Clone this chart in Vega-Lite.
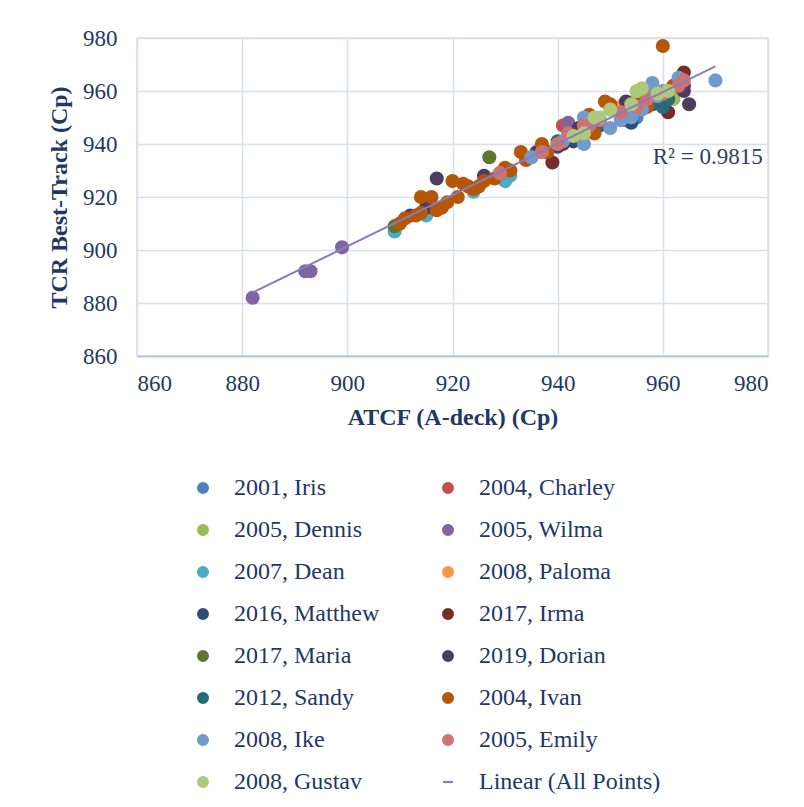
{
  "$schema": "https://vega.github.io/schema/vega-lite/v6.json",
  "width": 631,
  "height": 318,
  "autosize": "none",
  "padding": {"left": 137, "top": 38, "right": 36, "bottom": 451},
  "background": "white",
  "config": {
    "font": "Times New Roman",
    "view": {"stroke": "#D6E0F0", "strokeWidth": 1.5},
    "axis": {
      "gridColor": "#D6E0F0",
      "gridWidth": 1.5,
      "tickSize": 0,
      "labelFontSize": 23,
      "labelColor": "#1F3864",
      "titleFontSize": 24,
      "titleColor": "#1F3864",
      "titleFontWeight": "bold",
      "labelFont": "Times New Roman",
      "titleFont": "Times New Roman"
    },
    "legend": {
      "labelFont": "Times New Roman",
      "symbolStrokeWidth": 2,
      "title": null,
      "orient": "none",
      "direction": "horizontal",
      "legendX": 54,
      "legendY": 438,
      "columns": 2,
      "columnPadding": 56,
      "rowPadding": 18,
      "padding": 0,
      "labelFontSize": 24,
      "labelColor": "#1F3864",
      "labelOffset": 19,
      "labelLimit": 400
    }
  },
  "data": {
    "values": [
      {"series": "2001, Iris", "x": 944, "y": 945},
      {"series": "2001, Iris", "x": 948, "y": 948},
      {"series": "2001, Iris", "x": 953, "y": 949},
      {"series": "2001, Iris", "x": 955, "y": 950},
      {"series": "2001, Iris", "x": 957, "y": 956},
      {"series": "2004, Charley", "x": 941, "y": 947},
      {"series": "2004, Charley", "x": 946, "y": 946},
      {"series": "2004, Charley", "x": 952, "y": 951},
      {"series": "2004, Charley", "x": 956, "y": 955},
      {"series": "2004, Charley", "x": 962, "y": 960},
      {"series": "2005, Dennis", "x": 943, "y": 943},
      {"series": "2005, Dennis", "x": 950, "y": 953},
      {"series": "2005, Dennis", "x": 955, "y": 957},
      {"series": "2005, Dennis", "x": 958, "y": 960},
      {"series": "2005, Dennis", "x": 962, "y": 957},
      {"series": "2005, Wilma", "x": 882, "y": 882},
      {"series": "2005, Wilma", "x": 892, "y": 892},
      {"series": "2005, Wilma", "x": 893, "y": 892},
      {"series": "2005, Wilma", "x": 899, "y": 901},
      {"series": "2005, Wilma", "x": 942, "y": 948},
      {"series": "2007, Dean", "x": 909, "y": 907},
      {"series": "2007, Dean", "x": 915, "y": 913},
      {"series": "2007, Dean", "x": 924, "y": 922},
      {"series": "2007, Dean", "x": 930, "y": 926},
      {"series": "2007, Dean", "x": 931, "y": 928},
      {"series": "2008, Paloma", "x": 944, "y": 945},
      {"series": "2008, Paloma", "x": 947, "y": 950},
      {"series": "2008, Paloma", "x": 952, "y": 954},
      {"series": "2016, Matthew", "x": 938, "y": 937},
      {"series": "2016, Matthew", "x": 940, "y": 939},
      {"series": "2016, Matthew", "x": 943, "y": 941},
      {"series": "2016, Matthew", "x": 947, "y": 946},
      {"series": "2016, Matthew", "x": 954, "y": 948},
      {"series": "2016, Matthew", "x": 958, "y": 955},
      {"series": "2017, Irma", "x": 939, "y": 933},
      {"series": "2017, Irma", "x": 941, "y": 940},
      {"series": "2017, Irma", "x": 957, "y": 957},
      {"series": "2017, Irma", "x": 961, "y": 952},
      {"series": "2017, Irma", "x": 964, "y": 962},
      {"series": "2017, Irma", "x": 964, "y": 967},
      {"series": "2017, Maria", "x": 909, "y": 909},
      {"series": "2017, Maria", "x": 916, "y": 916},
      {"series": "2017, Maria", "x": 927, "y": 935},
      {"series": "2017, Maria", "x": 961, "y": 957},
      {"series": "2019, Dorian", "x": 912, "y": 913},
      {"series": "2019, Dorian", "x": 915, "y": 916},
      {"series": "2019, Dorian", "x": 917, "y": 927},
      {"series": "2019, Dorian", "x": 926, "y": 928},
      {"series": "2019, Dorian", "x": 936, "y": 937},
      {"series": "2019, Dorian", "x": 944, "y": 946},
      {"series": "2019, Dorian", "x": 953, "y": 956},
      {"series": "2019, Dorian", "x": 964, "y": 960},
      {"series": "2019, Dorian", "x": 965, "y": 955},
      {"series": "2012, Sandy", "x": 940, "y": 941},
      {"series": "2012, Sandy", "x": 945, "y": 944},
      {"series": "2012, Sandy", "x": 948, "y": 947},
      {"series": "2012, Sandy", "x": 958, "y": 956},
      {"series": "2012, Sandy", "x": 960, "y": 954},
      {"series": "2012, Sandy", "x": 961, "y": 957},
      {"series": "2004, Ivan", "x": 910, "y": 910},
      {"series": "2004, Ivan", "x": 911, "y": 912},
      {"series": "2004, Ivan", "x": 913, "y": 913},
      {"series": "2004, Ivan", "x": 914, "y": 914},
      {"series": "2004, Ivan", "x": 914, "y": 920},
      {"series": "2004, Ivan", "x": 916, "y": 920},
      {"series": "2004, Ivan", "x": 917, "y": 915},
      {"series": "2004, Ivan", "x": 918, "y": 916},
      {"series": "2004, Ivan", "x": 919, "y": 918},
      {"series": "2004, Ivan", "x": 920, "y": 926},
      {"series": "2004, Ivan", "x": 921, "y": 920},
      {"series": "2004, Ivan", "x": 922, "y": 925},
      {"series": "2004, Ivan", "x": 923, "y": 924},
      {"series": "2004, Ivan", "x": 924, "y": 923},
      {"series": "2004, Ivan", "x": 925, "y": 924},
      {"series": "2004, Ivan", "x": 926, "y": 926},
      {"series": "2004, Ivan", "x": 928, "y": 927},
      {"series": "2004, Ivan", "x": 929, "y": 929},
      {"series": "2004, Ivan", "x": 930, "y": 931},
      {"series": "2004, Ivan", "x": 931, "y": 930},
      {"series": "2004, Ivan", "x": 933, "y": 937},
      {"series": "2004, Ivan", "x": 934, "y": 934},
      {"series": "2004, Ivan", "x": 935, "y": 935},
      {"series": "2004, Ivan", "x": 937, "y": 940},
      {"series": "2004, Ivan", "x": 938, "y": 937},
      {"series": "2004, Ivan", "x": 940, "y": 940},
      {"series": "2004, Ivan", "x": 944, "y": 943},
      {"series": "2004, Ivan", "x": 946, "y": 951},
      {"series": "2004, Ivan", "x": 947, "y": 944},
      {"series": "2004, Ivan", "x": 949, "y": 956},
      {"series": "2004, Ivan", "x": 950, "y": 955},
      {"series": "2004, Ivan", "x": 955, "y": 955},
      {"series": "2004, Ivan", "x": 957, "y": 954},
      {"series": "2004, Ivan", "x": 960, "y": 977},
      {"series": "2004, Ivan", "x": 962, "y": 962},
      {"series": "2004, Ivan", "x": 963, "y": 964},
      {"series": "2008, Ike", "x": 935, "y": 935},
      {"series": "2008, Ike", "x": 941, "y": 941},
      {"series": "2008, Ike", "x": 945, "y": 940},
      {"series": "2008, Ike", "x": 945, "y": 950},
      {"series": "2008, Ike", "x": 950, "y": 946},
      {"series": "2008, Ike", "x": 952, "y": 949},
      {"series": "2008, Ike", "x": 954, "y": 950},
      {"series": "2008, Ike", "x": 956, "y": 953},
      {"series": "2008, Ike", "x": 958, "y": 961},
      {"series": "2008, Ike", "x": 958, "y": 963},
      {"series": "2008, Ike", "x": 959, "y": 958},
      {"series": "2008, Ike", "x": 960, "y": 960},
      {"series": "2008, Ike", "x": 963, "y": 965},
      {"series": "2008, Ike", "x": 970, "y": 964},
      {"series": "2005, Emily", "x": 929, "y": 929},
      {"series": "2005, Emily", "x": 937, "y": 937},
      {"series": "2005, Emily", "x": 940, "y": 940},
      {"series": "2005, Emily", "x": 942, "y": 944},
      {"series": "2005, Emily", "x": 945, "y": 947},
      {"series": "2005, Emily", "x": 946, "y": 947},
      {"series": "2005, Emily", "x": 948, "y": 949},
      {"series": "2005, Emily", "x": 952, "y": 952},
      {"series": "2005, Emily", "x": 955, "y": 954},
      {"series": "2005, Emily", "x": 957, "y": 957},
      {"series": "2005, Emily", "x": 960, "y": 959},
      {"series": "2005, Emily", "x": 963, "y": 962},
      {"series": "2005, Emily", "x": 964, "y": 964},
      {"series": "2008, Gustav", "x": 943, "y": 943},
      {"series": "2008, Gustav", "x": 945, "y": 944},
      {"series": "2008, Gustav", "x": 947, "y": 950},
      {"series": "2008, Gustav", "x": 948, "y": 950},
      {"series": "2008, Gustav", "x": 950, "y": 953},
      {"series": "2008, Gustav", "x": 954, "y": 955},
      {"series": "2008, Gustav", "x": 955, "y": 960},
      {"series": "2008, Gustav", "x": 956, "y": 961},
      {"series": "2008, Gustav", "x": 959, "y": 959},
      {"series": "2008, Gustav", "x": 961, "y": 960}
    ]
  },
  "layer": [
    {
      "mark": {"type": "point", "filled": true, "opacity": 1, "size": 200},
      "encoding": {
        "x": {
          "field": "x",
          "type": "quantitative",
          "scale": {"domain": [860, 980], "nice": false, "zero": false},
          "axis": {
            "title": "ATCF (A-deck) (Cp)",
            "values": [860, 880, 900, 920, 940, 960, 980],
            "grid": true,
            "domainColor": "#A9C0E4",
            "domainWidth": 1.5,
            "labelPadding": 16,
            "titlePadding": 10
          }
        },
        "y": {
          "field": "y",
          "type": "quantitative",
          "scale": {"domain": [860, 980], "nice": false, "zero": false},
          "axis": {
            "title": "TCR Best-Track (Cp)",
            "values": [860, 880, 900, 920, 940, 960, 980],
            "grid": true,
            "domain": false,
            "labelPadding": 20,
            "titlePadding": 11
          }
        },
        "color": {
          "field": "series",
          "type": "nominal",
          "scale": {
            "domain": ["2001, Iris", "2004, Charley", "2005, Dennis", "2005, Wilma", "2007, Dean", "2008, Paloma", "2016, Matthew", "2017, Irma", "2017, Maria", "2019, Dorian", "2012, Sandy", "2004, Ivan", "2008, Ike", "2005, Emily", "2008, Gustav", "Linear (All Points)"],
            "range": ["#4F81BD", "#C0504D", "#9BBB59", "#8064A2", "#4BACC6", "#F79646", "#2C4D75", "#772C2A", "#5F7530", "#4D3B62", "#276A7C", "#B65708", "#729ACA", "#CD7371", "#AFC97A", "#8B7BBE"]
          },
          "legend": {
            "encode": {
              "symbols": {
                "update": {
                  "stroke": {"signal": "scale('color', datum.value)"},
                  "size": {"value": 140},
                  "y": {"value": 12}
                }
              },
              "labels": {
                "update": {
                  "y": {"value": 12}
                }
              }
            }
          }
        },
        "shape": {
          "field": "series",
          "type": "nominal",
          "scale": {
            "domain": ["2001, Iris", "2004, Charley", "2005, Dennis", "2005, Wilma", "2007, Dean", "2008, Paloma", "2016, Matthew", "2017, Irma", "2017, Maria", "2019, Dorian", "2012, Sandy", "2004, Ivan", "2008, Ike", "2005, Emily", "2008, Gustav", "Linear (All Points)"],
            "range": ["circle", "circle", "circle", "circle", "circle", "circle", "circle", "circle", "circle", "circle", "circle", "circle", "circle", "circle", "circle", "stroke"]
          }
        }
      }
    },
    {
      "transform": [{"regression": "y", "on": "x"}],
      "mark": {"type": "line", "strokeWidth": 2},
      "encoding": {
        "x": {"field": "x", "type": "quantitative"},
        "y": {"field": "y", "type": "quantitative"},
        "color": {"datum": "Linear (All Points)"}
      }
    },
    {
      "data": {"values": [{"x": 979, "y": 935, "label": "R² = 0.9815"}]},
      "mark": {"type": "text", "align": "right", "baseline": "middle", "fontSize": 23, "font": "Times New Roman", "color": "#2F3E5C"},
      "encoding": {
        "x": {"field": "x", "type": "quantitative"},
        "y": {"field": "y", "type": "quantitative"},
        "text": {"field": "label"}
      }
    }
  ]
}
